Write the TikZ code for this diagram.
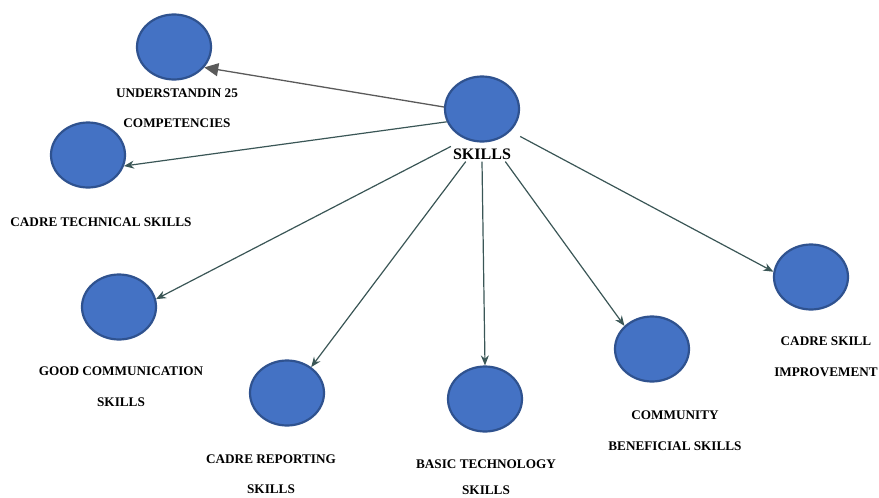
\documentclass[tikz,border=0pt]{standalone}
\usepackage{fontspec}
\setmainfont{Liberation Serif}
\usetikzlibrary{shapes.geometric,arrows.meta}
\definecolor{bubble}{HTML}{4472C4}
\definecolor{bubbleedge}{HTML}{2F528F}
\definecolor{linkgreen}{HTML}{3A5656}
\definecolor{linkgrey}{HTML}{5A5A5A}
\begin{document}
\begin{tikzpicture}[x=1pt,y=-1pt,
  bubblenode/.style={ellipse,draw=bubbleedge,line width=2.2pt,fill=bubble,
    minimum width=74pt,minimum height=65pt,inner sep=0pt},
  lbl/.style={font=\fontsize{13.2}{15}\selectfont\bfseries,inner sep=1pt,align=center},
  hublbl/.style={font=\fontsize{16}{18}\selectfont\bfseries,inner sep=2pt},
  link/.style={draw=linkgreen,line width=1.2pt,-{Stealth[length=10pt,width=8pt]}},
  toplink/.style={draw=linkgrey,line width=1.3pt,-{Triangle[length=14pt,width=13pt]}}]
\useasboundingbox (0,0) rectangle (879,498);

% hub
\node[bubblenode] (skills) at (482,109) {};
\node[hublbl] (skillslbl) at (482,154) {SKILLS};

% outer bubbles
\node[bubblenode] (und)  at (174,47)  {};
\node[bubblenode] (tech) at (88,155)  {};
\node[bubblenode] (comm) at (119,307) {};
\node[bubblenode] (rep)  at (287,393) {};
\node[bubblenode] (basic) at (485,399) {};
\node[bubblenode] (cben) at (652,349) {};
\node[bubblenode] (imp)  at (811,277) {};

% captions
\node[lbl] (undA) at (177,93)  {UNDERSTANDIN 25};
\node[lbl] (undB) at (177,123) {COMPETENCIES};
\node[lbl] (techA) at (101,222) {CADRE TECHNICAL SKILLS};
\node[lbl] (commA) at (121,371) {GOOD COMMUNICATION};
\node[lbl] (commB) at (121,402) {SKILLS};
\node[lbl] (repA) at (271,459) {CADRE REPORTING};
\node[lbl] (repB) at (271,489) {SKILLS};
\node[lbl] (basicA) at (486,464) {BASIC TECHNOLOGY};
\node[lbl] (basicB) at (486,490) {SKILLS};
\node[lbl] (cbenA) at (675,415) {COMMUNITY};
\node[lbl] (cbenB) at (675,446) {BENEFICIAL SKILLS};
\node[lbl] (impA) at (826,341) {CADRE SKILL};
\node[lbl] (impB) at (826,372) {IMPROVEMENT};

% connectors
\draw[toplink] (skills.177) -- (und.326);
\draw[link] (skills.200) -- (tech.343);
\draw[link] (skillslbl.north west) -- (comm.12);
\draw[link] (skillslbl.205) -- (rep.47);
\draw[link] (skillslbl.south) -- (basic.north);
\draw[link] (skillslbl.342) -- (cben.140);
\draw[link,shorten <=11pt] (skills.322) -- (imp.172);
\end{tikzpicture}
\end{document}
